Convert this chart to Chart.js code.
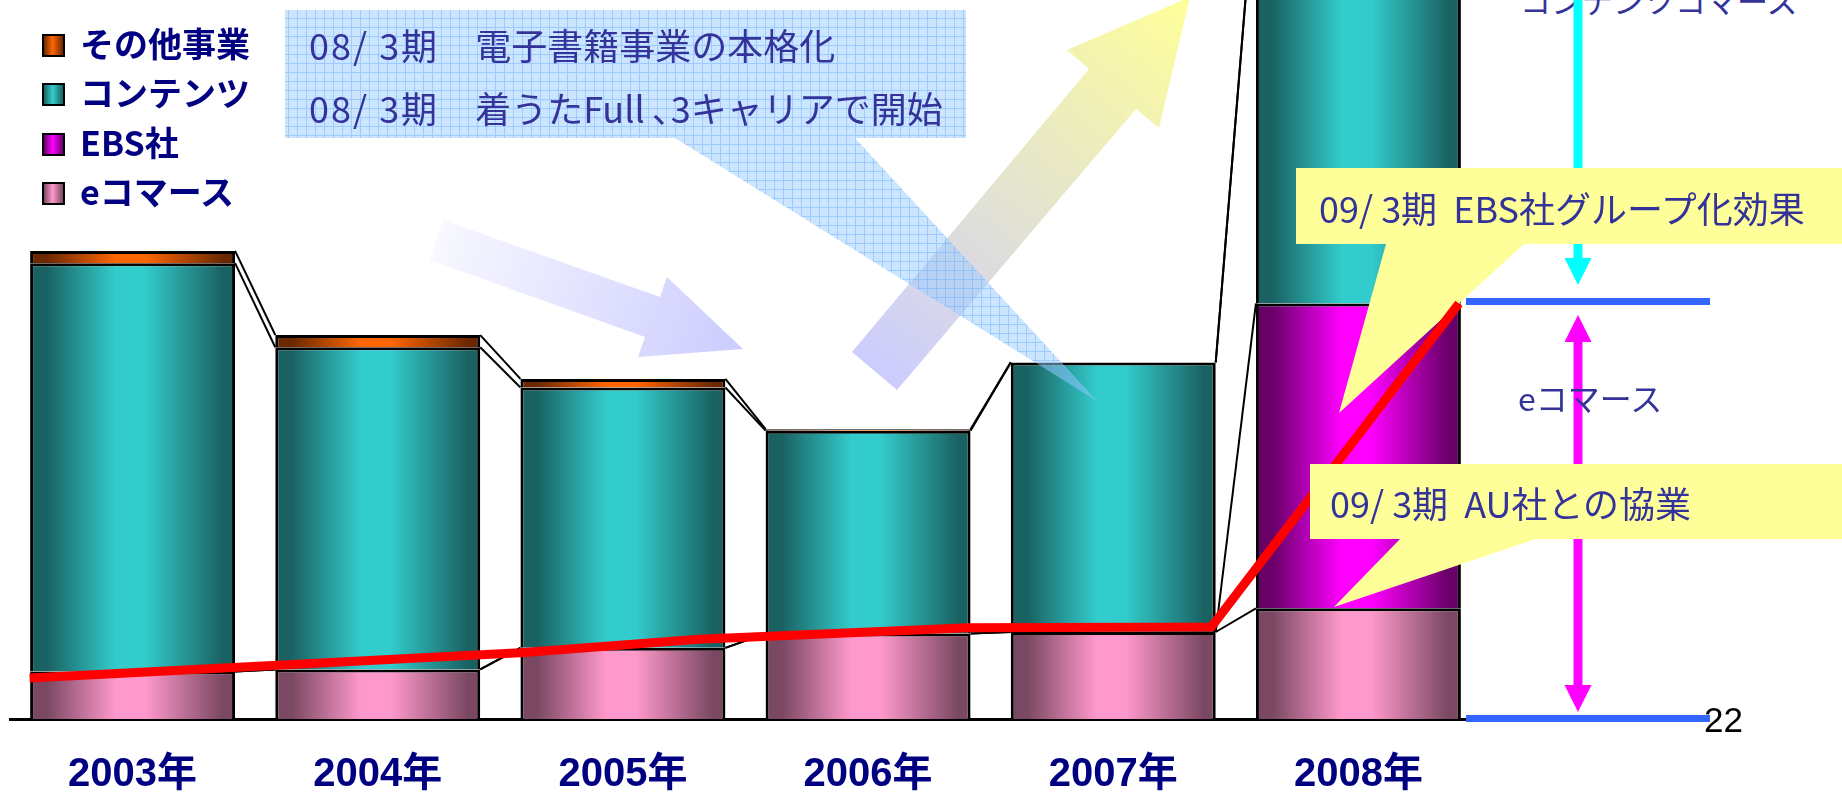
<!DOCTYPE html>
<html lang="ja">
<head>
<meta charset="UTF-8">
<title>事業別売上推移</title>
<script src="https://cdn.jsdelivr.net/npm/chart.js@4.4.0/dist/chart.umd.min.js"></script>
<style>
    body { margin: 0; background: #fff; font-family: "Noto Sans CJK JP", sans-serif; }
    #wrap { position: relative; width: 1842px; height: 795px; overflow: hidden; }
    #chart { position: absolute; left: 0; top: 0; z-index: 1; }
    .t { position: absolute; white-space: nowrap; z-index: 2; color: #333399; }
    .t .p { letter-spacing: 2px; }
    .legend { position: absolute; left: 42px; top: 0; z-index: 2; }
    .legend div { position: absolute; left: 0; white-space: nowrap; }
    .legend span.box { position: absolute; left: 0; width: 19px; height: 19px; border: 2px solid #000; }
    .legend span.lab { position: absolute; left: 38px; font-weight: bold; font-size: 34px; line-height: 34px; color: #000080; }
</style>
</head>
<body>
<div id="wrap">
    <canvas id="chart" width="1842" height="795"></canvas>
    <div class="legend" id="legend"></div>

    <div class="t" style="left:309px; top:26px; font-size:36px; line-height:36px;"><span class="p">08/ 3期</span>　電子書籍事業の本格化</div>
    <div class="t" style="left:309px; top:89px; font-size:36px; line-height:36px;"><span class="p">08/ 3期</span>　着うたFull ､3キャリアで開始</div>
    <div class="t" style="left:1319px; top:189px; font-size:36px; line-height:36px;">09/ 3期&nbsp;&nbsp;EBS社グループ化効果</div>
    <div class="t" style="left:1330px; top:484px; font-size:36px; line-height:36px;">09/ 3期&nbsp;&nbsp;AU社との協業</div>
    <div class="t" style="left:1518px; top:381px; font-size:32px; line-height:32px;">eコマース</div>
    <div class="t" style="left:1520px; top:-16px; font-size:31px; line-height:31px; z-index:0;">コンテンツコマース</div>
    <div class="t" style="left:1704px; top:702px; font-size:35px; line-height:35px; color:#000; font-family:'Liberation Sans', Arial, sans-serif;">22</div>
</div>

<script>
// categories and series (relative sales, chart top = 100)
const years = ['2003年', '2004年', '2005年', '2006年', '2007年', '2008年'];
const seriesNames = ['eコマース', 'EBS社', 'コンテンツ', 'その他事業'];
const eCommerce = [6.6, 6.9, 9.9, 11.9, 12.1, 15.4];
const ebs = [0, 0, 0, 0, 0, 42.4];
const contents = [56.8, 44.8, 36.2, 28.2, 37.5, 60];
const others = [1.7, 1.7, 1.2, 0.2, 0, 0];

// red trend line (x in years, bar centres at whole years)
const trendX = [2002.58, 2004.58, 2005.31, 2006.41, 2007.40, 2008.41];
const trendY = [5.7, 9.2, 11.1, 12.7, 12.8, 57.8];

const BAR_PCT = 0.836;
const shades = [
    ['#7a4862', '#ff99cc'],   // eコマース
    ['#680068', '#ff00ff'],   // EBS社
    ['#1a6262', '#33cccc'],   // コンテンツ
    ['#6b2800', '#ff6600']    // その他事業
];

function shade(dark, light) {
    return function (c) {
        const chart = c.chart, xs = chart.scales.x;
        if (!xs || c.type !== 'data') return light;
        const cx = xs.getPixelForValue(c.dataIndex);
        const w = (xs.right - xs.left) / years.length * BAR_PCT;
        if (!Number.isFinite(cx) || !Number.isFinite(w) || w <= 0) return light;
        const g = chart.ctx.createLinearGradient(cx - w / 2, 0, cx + w / 2, 0);
        g.addColorStop(0, dark);
        g.addColorStop(0.08, dark);
        g.addColorStop(0.42, light);
        g.addColorStop(0.56, light);
        g.addColorStop(0.94, dark);
        g.addColorStop(1, dark);
        return g;
    };
}

// legend (top series first)
const legend = document.getElementById('legend');
[3, 2, 1, 0].forEach((k, row) => {
    const d = document.createElement('div');
    d.style.top = (45 + row * 49.3) + 'px';
    d.innerHTML = '<span class="box" style="top:-11px;background:linear-gradient(90deg,' +
        shades[k][0] + ',' + shades[k][1] + ' 45%,' + shades[k][0] + ')"></span>' +
        '<span class="lab" style="top:-19px">' + seriesNames[k] + '</span>';
    legend.appendChild(d);
});

// grid pattern for the blue callout
const pat = document.createElement('canvas');
pat.width = 9; pat.height = 9;
const pc = pat.getContext('2d');
pc.fillStyle = 'rgba(153,204,255,0.5)';
pc.fillRect(0, 0, 9, 9);
pc.fillStyle = 'rgba(102,170,255,0.45)';
pc.fillRect(0, 0, 9, 1);
pc.fillRect(0, 1, 1, 8);

function poly(ctx, pts, fill) {
    ctx.beginPath();
    ctx.moveTo(pts[0][0], pts[0][1]);
    for (let i = 1; i < pts.length; i++) ctx.lineTo(pts[i][0], pts[i][1]);
    ctx.closePath();
    ctx.fillStyle = fill;
    ctx.fill();
}

function callout(ctx, x0, y0, x1, y1, b0, b1, tip, fill) {
    ctx.beginPath();
    ctx.rect(x0, y0, x1 - x0, y1 - y0);
    ctx.moveTo(b0, y1);
    ctx.lineTo(tip[0], tip[1]);
    ctx.lineTo(b1, y1);
    ctx.closePath();
    ctx.fillStyle = fill;
    ctx.fill('nonzero');
}

const decor = {
    id: 'decor',
    beforeDatasetsDraw(chart) {
        const ctx = chart.ctx;
        ctx.save();
        // series lines between bars
        ctx.strokeStyle = '#000';
        ctx.lineWidth = 2;
        for (let d = 1; d <= 4; d++) {
            const els = chart.getDatasetMeta(d).data;
            for (let i = 0; i < els.length - 1; i++) {
                const a = els[i], b = els[i + 1];
                ctx.beginPath();
                ctx.moveTo(a.x + a.width / 2, a.y);
                ctx.lineTo(b.x - b.width / 2, b.y);
                ctx.stroke();
            }
        }
        // lavender arrow
        let g = ctx.createLinearGradient(436, 240, 743, 349);
        g.addColorStop(0, '#f8f8ff');
        g.addColorStop(1, '#ccccff');
        poly(ctx, [[443, 220], [660, 297], [667, 277], [743, 349], [638, 357], [645, 337], [430, 260]], g);
        // yellow arrow
        g = ctx.createLinearGradient(874, 371, 1190, -3);
        g.addColorStop(0, '#ccccff');
        g.addColorStop(1, '#ffff99');
        poly(ctx, [[852, 352], [1089, 69], [1067, 50], [1190, -3], [1159, 128], [1136, 109], [897, 390]], g);
        // right-hand bracket
        ctx.fillStyle = '#3366ff';
        ctx.fillRect(1466, 298, 244, 7);
        ctx.fillRect(1466, 715, 244, 7);
        ctx.fillStyle = '#00ffff';
        ctx.fillRect(1573.5, 0, 9, 262);
        poly(ctx, [[1564.5, 258], [1591.5, 258], [1578, 285]], '#00ffff');
        ctx.fillStyle = '#ff00ff';
        ctx.fillRect(1573.5, 338, 9, 352);
        poly(ctx, [[1578, 315], [1591.5, 342], [1564.5, 342]], '#ff00ff');
        poly(ctx, [[1564.5, 685], [1591.5, 685], [1578, 712]], '#ff00ff');
        ctx.restore();
    },
    beforeDatasetDraw(chart, args) {
        if (args.meta.type !== 'line') return;
        const ctx = chart.ctx;
        ctx.save();
        callout(ctx, 285, 10, 966, 138, 675, 855, [1097, 401], ctx.createPattern(pat, 'repeat'));
        callout(ctx, 1296, 168, 1842, 244, 1386, 1524, [1339, 413], '#ffff99');
        ctx.restore();
    },
    afterDatasetsDraw(chart) {
        const ctx = chart.ctx;
        ctx.save();
        callout(ctx, 1310, 464, 1842, 539, 1400, 1536, [1334, 607], '#ffff99');
        ctx.restore();
    }
};

const barData = [eCommerce, ebs, contents, others];

new Chart(document.getElementById('chart'), {
    type: 'bar',
    data: {
        labels: years,
        datasets: [{
            type: 'line',
            label: '推移',
            data: trendX.map((x, i) => ({ x: x, y: trendY[i] })),
            xAxisID: 'xt',
            yAxisID: 'y',
            borderColor: '#ff0000',
            borderWidth: 9,
            pointRadius: 0,
            tension: 0,
            fill: false,
            order: 0
        }].concat(barData.map((vals, k) => ({
            label: seriesNames[k],
            data: vals,
            xAxisID: 'x',
            yAxisID: 'y',
            stack: 'sales',
            grouped: false,
            backgroundColor: shade(shades[k][0], shades[k][1]),
            borderColor: '#000',
            borderWidth: 3,
            barPercentage: BAR_PCT,
            categoryPercentage: 1,
            order: 1
        })))
    },
    options: {
        responsive: false,
        animation: false,
        devicePixelRatio: 1,
        layout: { padding: { left: 10, right: 361, top: 0, bottom: 0 } },
        plugins: { legend: { display: false }, tooltip: { enabled: false } },
        scales: {
            x: {
                stacked: true,
                offset: true,
                grid: { display: false, drawTicks: true, tickLength: 36 },
                border: { display: true, color: '#000', width: 3 },
                ticks: {
                    color: '#000080',
                    padding: 0,
                    font: { family: '"Liberation Sans", "Noto Sans CJK JP", sans-serif', size: 40, weight: 'bold', lineHeight: 1.0 }
                }
            },
            xt: { type: 'linear', axis: 'x', display: false, offset: false, min: 2002.5, max: 2008.5 },
            y: { stacked: true, display: false, min: 0, max: 100 }
        }
    },
    plugins: [decor]
});
</script>
</body>
</html>
